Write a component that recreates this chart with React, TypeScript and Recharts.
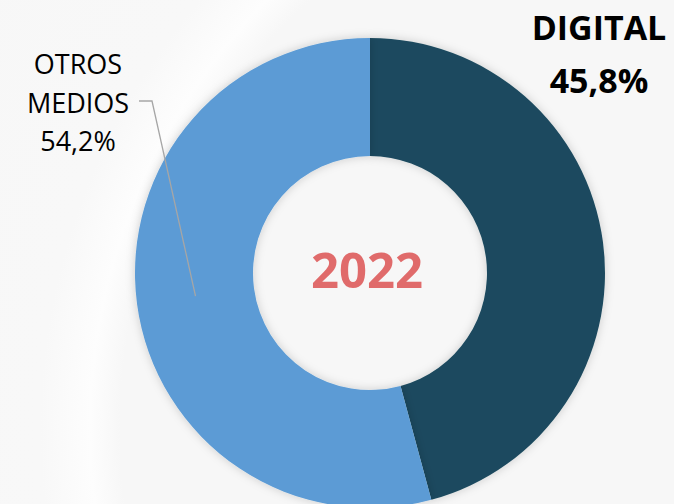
import React from "react";
import { PieChart, Pie, Cell } from "recharts";

const categories = ["DIGITAL", "OTROS MEDIOS"];
const shares = [45.8, 54.2];
const percentLabels = ["45,8%", "54,2%"];
const yearLabel = "2022";
const colors = ["#1C4A5E", "#5B9BD5"];

const data = categories.map((name, i) => ({ name, value: shares[i], pct: percentLabels[i] }));

const FONT = "'Open Sans', 'Noto Sans', sans-serif";
const RAD = Math.PI / 180;

const renderLabel = (props: any) => {
  const { cx, cy, midAngle, innerRadius, outerRadius, index, payload } = props;
  if (index === 0) {
    const x = cx + 229;
    return (
      <g>
        <text x={cx - 3} y={cy - 4} textAnchor="middle" dominantBaseline="central" fontFamily={FONT} fontWeight={700} fontSize={49} fill="#E06B6B">
          {yearLabel}
        </text>
        <text x={x} y={cy - 246} textAnchor="middle" dominantBaseline="central" fontFamily={FONT} fontWeight={700} fontSize={34} fill="#000">
          {payload.name}
        </text>
        <text x={x} y={cy - 193} textAnchor="middle" dominantBaseline="central" fontFamily={FONT} fontWeight={700} fontSize={34} fill="#000">
          {payload.pct}
        </text>
      </g>
    );
  }
  const r = (innerRadius + outerRadius) / 2;
  const px = cx + r * Math.cos(-midAngle * RAD);
  const py = cy + r * Math.sin(-midAngle * RAD);
  const tx = cx - 292;
  const words = String(payload.name).split(" ");
  return (
    <g>
      <polyline points={`${cx - 231},${cy - 172} ${cx - 218},${cy - 172} ${px},${py}`} fill="none" stroke="#A6A6A6" strokeWidth={1.3} />
      <text x={tx} y={cy - 210} textAnchor="middle" dominantBaseline="central" fontFamily={FONT} fontSize={27} fill="#000">
        {words[0]}
      </text>
      <text x={tx} y={cy - 171} textAnchor="middle" dominantBaseline="central" fontFamily={FONT} fontSize={27} fill="#000">
        {words[1]}
      </text>
      <text x={tx} y={cy - 133} textAnchor="middle" dominantBaseline="central" fontFamily={FONT} fontSize={27} fill="#000">
        {payload.pct}
      </text>
    </g>
  );
};

export default function App() {
  return (
    <div
      style={{
        position: "absolute",
        left: 0,
        top: 0,
        width: 674,
        height: 504,
        overflow: "hidden",
        background:
          "radial-gradient(circle at 700px 430px, #f7f7f7 0px, #f7f7f7 580px, #fdfdfd 610px, #f8f8f8 660px, #f7f7f7 900px)",
      }}
    >
      <PieChart width={674} height={504} margin={{ top: 0, right: 0, bottom: 0, left: 0 }}>
        <defs>
          <filter id="shadow" x="-20%" y="-20%" width="140%" height="140%">
            <feDropShadow dx="0" dy="0" stdDeviation="5" floodColor="#000" floodOpacity="0.18" />
          </filter>
        </defs>
        <Pie
          data={data}
          dataKey="value"
          nameKey="name"
          cx={370}
          cy={273}
          innerRadius={117}
          outerRadius={235}
          startAngle={90}
          endAngle={-270}
          stroke="none"
          isAnimationActive={false}
          label={renderLabel}
          labelLine={false}
          style={{ filter: "url(#shadow)" }}
        >
          {data.map((d, i) => (
            <Cell key={d.name} fill={colors[i]} />
          ))}
        </Pie>
      </PieChart>
    </div>
  );
}
